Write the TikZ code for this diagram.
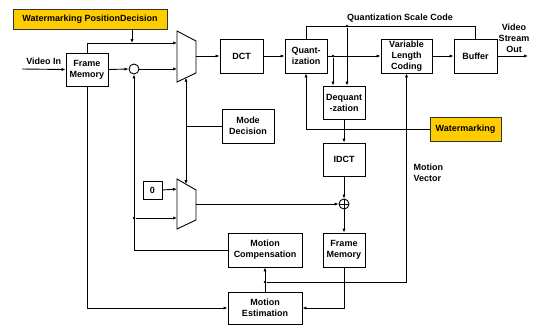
\documentclass[tikz,border=0pt]{standalone}
\usepackage{fontspec}
\setmainfont{Liberation Sans}
\usetikzlibrary{arrows.meta,positioning,calc}
\definecolor{wmyellow}{RGB}{255,204,0}

\begin{document}
\begin{tikzpicture}[
    x=1pt, y=-1pt,
    font=\bfseries\fontsize{9}{11}\selectfont,
    block/.style={rectangle, draw, line width=0.9pt, align=center, inner sep=0pt},
    mark block/.style={block, fill=wmyellow, draw=black!80},
    junction/.style={circle, draw, line width=0.9pt, minimum size=10pt, inner sep=0pt},
    arrow/.style={-{Latex[length=4pt,width=3.2pt]}, line width=0.9pt},
    wire/.style={line width=0.9pt},
    dot/.style={circle, fill, inner sep=0pt, minimum size=2.8pt}
]
    \useasboundingbox (0,0) rectangle (533,325);

    % blocks
    \node[mark block, minimum width=154pt, minimum height=20pt] (wpd) at (90,19) {Watermarking PositionDecision};
    \node[block, minimum width=42pt, minimum height=33pt] (fmem) at (87,69.5) {Frame\\Memory};
    \node[block, minimum width=43pt, minimum height=34pt] (dct) at (241.5,56) {DCT};
    \node[block, minimum width=42pt, minimum height=34pt] (quant) at (306,56) {Quant-\\ization};
    \node[block, minimum width=51pt, minimum height=34pt] (vlc) at (406.5,56) {Variable\\Length\\Coding};
    \node[block, minimum width=43pt, minimum height=34pt] (buf) at (475.5,56) {Buffer};
    \node[block, minimum width=42pt, minimum height=33pt] (deq) at (344,102.5) {Dequant\\-zation};
    \node[mark block, minimum width=71pt, minimum height=24pt] (wm) at (465.5,129) {Watermarking};
    \node[block, minimum width=52pt, minimum height=34pt] (mode) at (248,126) {Mode\\Decision};
    \node[block, minimum width=42pt, minimum height=33pt] (idct) at (344,159.5) {IDCT};
    \node[block, minimum width=19pt, minimum height=18pt] (zero) at (152.5,190) {0};
    \node[block, minimum width=74pt, minimum height=34pt] (mcomp) at (265,250) {Motion\\Compensation};
    \node[block, minimum width=42pt, minimum height=34pt] (fmem2) at (344,250) {Frame\\Memory};
    \node[block, minimum width=74pt, minimum height=32pt] (mest) at (265,308) {Motion\\Estimation};

    % adders
    \node[junction] (sub) at (134,69) {};
    \node[junction] (add) at (344,204) {};
    \draw[wire] (add.north) -- (add.south) (add.west) -- (add.east);

    % multiplexers
    \draw[wire] (177,31) -- (196,41) -- (196,73) -- (177,82) -- cycle;
    \draw[wire] (177,179) -- (196,190) -- (196,220) -- (177,229) -- cycle;
    \coordinate (muxa1) at (177,43);
    \coordinate (muxa2) at (177,69);
    \coordinate (muxaout) at (196,56);
    \coordinate (muxasel) at (186,77.7);
    \coordinate (muxb1) at (177,189);
    \coordinate (muxb2) at (177,218);
    \coordinate (muxbout) at (196,204);
    \coordinate (muxbsel) at (186,184.2);

    % free ends and corners
    \coordinate (vin) at (22,69);
    \coordinate (vout) at (528,56);
    \coordinate (wpdin) at (132,43);
    \coordinate (qsc) at (0,26);
    \coordinate (mv) at (406.5,282);
    \coordinate (loop) at (0,218);

    % labels
    \node[above=1pt of $(vin)!0.5!(fmem.west)$] (vinlabel) {Video In};
    \node[align=center] (voutlabel) at (514,38) {Video\\Stream\\Out};
    \node (qsclabel) at (400,18) {Quantization Scale Code};
    \node[align=left, anchor=north west] (mvlabel) at (410,160) {Motion\\Vector};

    % connections
    \draw[arrow] (vin) -- (fmem.west);
    \draw[arrow] (fmem.north) |- (muxa1);
    \draw[arrow] (wpd.south -| wpdin) -- (wpdin);
    \draw[arrow] (fmem.east) -- (sub.west);
    \draw[arrow] (sub.east) -- (muxa2);
    \draw[arrow] (mcomp.west) -| (sub.south);
    \node[dot] (loopdot) at (sub.south |- loop) {};
    \draw[arrow] (loopdot) -- (muxb2);
    \draw[arrow] (muxaout) -- (dct.west);
    \draw[arrow] (dct.east) -- (quant.west);
    \draw[arrow] (quant.east) -- (vlc.west);
    \node[dot] (qdot) at (333,56) {};
    \draw[arrow] (qdot) -- (qdot |- deq.north);
    \draw[wire] (quant.north) |- (qsc -| buf.north) -- (buf.north);
    \node[dot] (qscdot) at (347,26) {};
    \draw[arrow] (qscdot) -- (qscdot |- deq.north);
    \draw[arrow] (vlc.east) -- (buf.west);
    \draw[arrow] (buf.east) -- (vout);
    \draw[arrow] (wm.west) -| (quant.south);
    \draw[arrow] (deq.south) -- (idct.north);
    \draw[arrow] (idct.south) -- (add.north);
    \draw[arrow] (muxbout) -- (add.west);
    \draw[arrow] (add.south) -- (fmem2.north);
    \draw[arrow] (fmem2.south) |- (mest.east);
    \draw[arrow] (fmem.south) |- (mest.west);
    \draw[arrow] (mest.north) -- (mcomp.south);
    \node[dot] (mvdot) at (mcomp.south |- mv) {};
    \draw[arrow] (mvdot) -| (vlc.south);
    \draw[wire] (mode.west) -- (mode.west -| muxasel);
    \draw[arrow] (mode.west -| muxasel) -- (muxasel);
    \draw[arrow] (mode.west -| muxbsel) -- (muxbsel);
    \draw[arrow] (zero.east) -- (muxb1);
\end{tikzpicture}
\end{document}
